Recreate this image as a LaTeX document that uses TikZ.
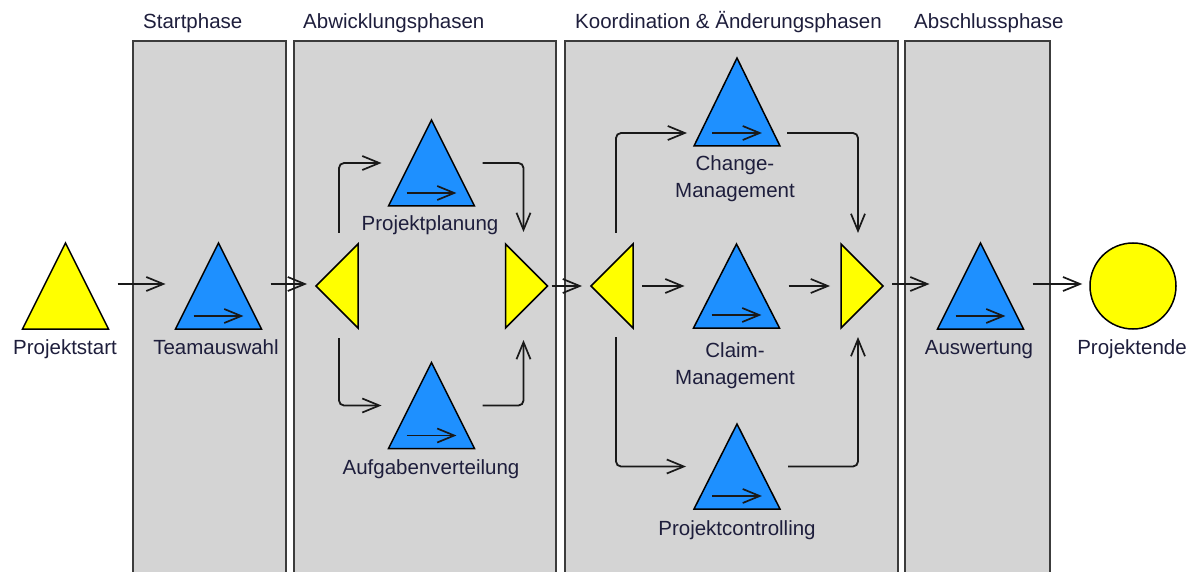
\documentclass[tikz,border=0pt]{standalone}
\usepackage{fontspec}
\setmainfont{Liberation Sans}
\usetikzlibrary{arrows.meta,calc}

\definecolor{lanegray}{RGB}{212,212,212}
\definecolor{laneborder}{RGB}{60,60,60}
\definecolor{taskblue}{RGB}{30,144,255}
\definecolor{gateyellow}{RGB}{255,255,0}
\definecolor{txt}{RGB}{30,30,60}

\tikzset{
  lane/.style={fill=lanegray, draw=laneborder, line width=1.8pt},
  lanetitle/.style={anchor=base west, inner sep=0pt, text=txt, font=\fontsize{20.5}{24}\selectfont},
  caption/.style={anchor=base, inner sep=0pt, text=txt, font=\fontsize{20.5}{24}\selectfont},
  shapebox/.style={inner sep=0pt, outer sep=0pt, minimum width=86pt, minimum height=86pt},
  gatebox/.style={inner sep=0pt, outer sep=0pt, minimum width=42pt, minimum height=84pt},
  taskshape/.style={fill=taskblue, draw=black, line width=1.5pt, line join=miter},
  gateshape/.style={fill=gateyellow, draw=black, line width=1.5pt, line join=miter},
  flow/.style={draw=black!90, line width=1.8pt, rounded corners=5pt,
    -{Straight Barb[length=17pt,width=14pt,line width=1.7pt]}},
}

\begin{document}
\begin{tikzpicture}[x=1pt,y=-1pt]
\useasboundingbox (0,0) rectangle (1197,572);
\clip (0,0) rectangle (1197,572);

% phase lanes
\draw[lane] (133,41) rectangle (286,600);
\draw[lane] (294,41) rectangle (556,600);
\draw[lane] (565,41) rectangle (898,600);
\draw[lane] (905,41) rectangle (1050,600);

\node[lanetitle] (t1) at (143,29) {Startphase};
\node[lanetitle] (t2) at (303,29) {Abwicklungsphasen};
\node[lanetitle] (t3) at (575,29) {Koordination \& Änderungsphasen};
\node[lanetitle] (t4) at (914,29) {Abschlussphase};

% shape frames
\node[shapebox] (start)  at (65.5,286) {};
\node[shapebox] (team)   at (218.5,286) {};
\node[shapebox] (plan)   at (431.5,163) {};
\node[shapebox] (aufg)   at (431.5,405.5) {};
\node[shapebox, minimum height=88pt] (change) at (737,102) {};
\node[shapebox, minimum height=84pt] (claim)  at (736.5,286) {};
\node[shapebox, minimum height=85pt] (ctrl)   at (737,466.5) {};
\node[shapebox] (ausw)   at (980.5,286) {};
\node[circle, inner sep=0pt, minimum size=86pt, fill=gateyellow, draw=black, line width=1.5pt] (finish) at (1133,286) {};

\node[gatebox] (g1) at (337,286) {};
\node[gatebox] (g2) at (526.5,286) {};
\node[gatebox] (g3) at (612,286) {};
\node[gatebox] (g4) at (862,286) {};

% start event
\draw[gateshape] (start.south west) -- (start.north) -- (start.south east) -- cycle;

% tasks with their inner arrow
\foreach \n in {team,plan,aufg,change,claim,ctrl,ausw}{
  \draw[taskshape] (\n.south west) -- (\n.north) -- (\n.south east) -- cycle;
  \draw[flow] ($(\n.south west)!0.21!(\n.south east)+(0,-13)$) -- ($(\n.south west)!0.79!(\n.south east)+(0,-13)$);
}

% split / join gateways
\draw[gateshape] (g1.north east) -- (g1.west) -- (g1.south east) -- cycle;
\draw[gateshape] (g2.north west) -- (g2.east) -- (g2.south west) -- cycle;
\draw[gateshape] (g3.north east) -- (g3.west) -- (g3.south east) -- cycle;
\draw[gateshape] (g4.north west) -- (g4.east) -- (g4.south west) -- cycle;

% captions
\node[caption] (cstart) at (65,354) {Projektstart};
\node[caption] (cteam)  at (216,354) {Teamauswahl};
\node[caption] (cplan)  at (430,231) {Projektplanung};
\node[caption] (caufg)  at (431,474) {Aufgabenverteilung};
\node[caption] (cch1)   at (735,171) {Change-};
\node[caption] (cch2)   at (735,198) {Management};
\node[caption] (ccl1)   at (735,357) {Claim-};
\node[caption] (ccl2)   at (735,384) {Management};
\node[caption] (cctrl)  at (737,535) {Projektcontrolling};
\node[caption] (causw)  at (979,354) {Auswertung};
\node[caption] (cend)   at (1132,354) {Projektende};

% main sequence
\draw[flow, shorten <=9pt, shorten >=10pt] ([yshift=2pt]start.east) -- ([yshift=2pt]team.west);
\draw[flow, shorten <=9pt, shorten >=9pt] ([yshift=2pt]team.east) -- ([yshift=2pt]g1.west);
\draw[flow, shorten <=4pt, shorten >=9pt] (g2.east) -- (g3.west);
\draw[flow, shorten <=9pt, shorten >=9pt] (g3.east) -- (claim.west);
\draw[flow, shorten <=9pt, shorten >=11pt] (claim.east) -- (g4.west);
\draw[flow, shorten <=9pt, shorten >=8pt] ([yshift=2pt]g4.east) -- ([yshift=2pt]ausw.west);
\draw[flow, shorten <=9pt, shorten >=7pt] ([yshift=2pt]ausw.east) -- ([yshift=2pt]finish.west);

% execution branches
\draw[flow, shorten <=11pt, shorten >=7pt] ([xshift=2pt]g1.north) |- (plan.west);
\draw[flow, shorten <=8pt, shorten >=12pt] (plan.east) -| ([xshift=-3pt]g2.north);
\draw[flow, shorten <=10pt, shorten >=7pt] ([xshift=2pt]g1.south) |- (aufg.west);
\draw[flow, shorten <=8pt, shorten >=12pt] (aufg.east) -| ([xshift=-3pt]g2.south);

% coordination branches
\draw[flow, shorten <=11pt, shorten >=7pt] ([xshift=4pt]g3.north) |- ([yshift=13pt]change.south west);
\draw[flow, shorten <=7pt, shorten >=11pt] ([yshift=13pt]change.south east) -| ([xshift=-4pt]g4.north);
\draw[flow, shorten <=9pt, shorten >=8pt] ([xshift=4pt]g3.south) |- (ctrl.west);
\draw[flow, shorten <=8pt, shorten >=9pt] (ctrl.east) -| ([xshift=-4pt]g4.south);
\end{tikzpicture}
\end{document}
